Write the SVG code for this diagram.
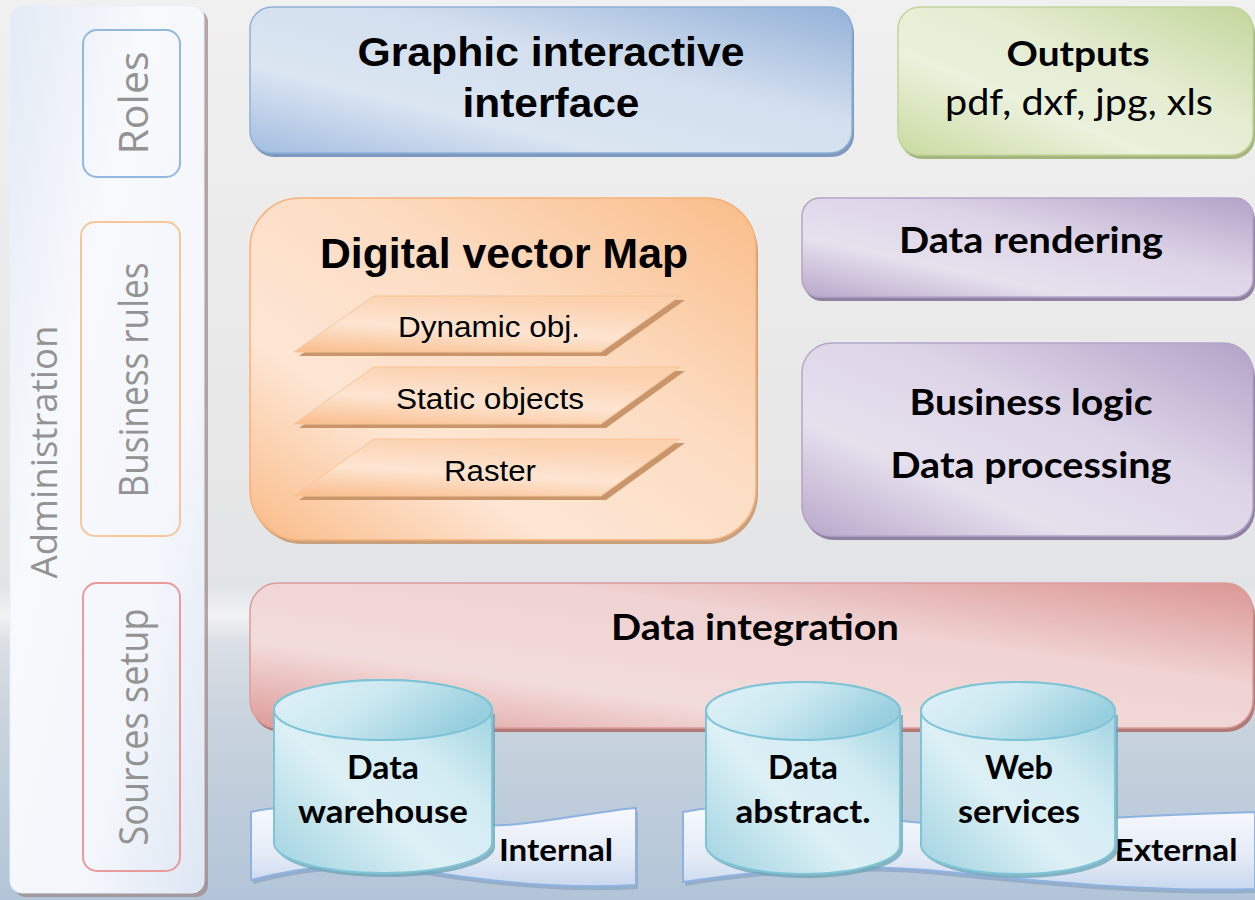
<svg xmlns="http://www.w3.org/2000/svg" width="1255" height="900" viewBox="0 0 1255 900">
<defs>
  <linearGradient id="bg" x1="0" y1="0" x2="0" y2="1">
    <stop offset="0" stop-color="#f0f0f0"/>
    <stop offset="0.55" stop-color="#e6e6e6"/>
    <stop offset="0.68" stop-color="#dfe3e7"/>
    <stop offset="0.8" stop-color="#c9d3dd"/>
    <stop offset="1" stop-color="#b2c5d8"/>
  </linearGradient>
  <linearGradient id="streak" x1="0" y1="0" x2="0" y2="1">
    <stop offset="0" stop-color="#ffffff" stop-opacity="0"/>
    <stop offset="0.5" stop-color="#ffffff" stop-opacity="0.55"/>
    <stop offset="1" stop-color="#ffffff" stop-opacity="0"/>
  </linearGradient>
  <linearGradient id="gAdmin" x1="0" y1="0" x2="1" y2="1">
    <stop offset="0" stop-color="#e3eaf5"/>
    <stop offset="0.35" stop-color="#f7f9fc"/>
    <stop offset="0.7" stop-color="#f3f6fb"/>
    <stop offset="1" stop-color="#dde6f3"/>
  </linearGradient>
  <linearGradient id="gBlue" x1="0" y1="1" x2="1" y2="0">
    <stop offset="0" stop-color="#a3bde0"/>
    <stop offset="0.3" stop-color="#dbe5f2"/>
    <stop offset="0.6" stop-color="#d3dfee"/>
    <stop offset="1" stop-color="#93b1d8"/>
  </linearGradient>
  <linearGradient id="gGreen" x1="0" y1="1" x2="1" y2="0">
    <stop offset="0" stop-color="#c9da9f"/>
    <stop offset="0.35" stop-color="#eaf1dc"/>
    <stop offset="0.6" stop-color="#e4ecd1"/>
    <stop offset="1" stop-color="#c3d69b"/>
  </linearGradient>
  <linearGradient id="gOrange" x1="0" y1="1" x2="1" y2="0">
    <stop offset="0" stop-color="#f9bb87"/>
    <stop offset="0.3" stop-color="#fde6d4"/>
    <stop offset="0.6" stop-color="#fcdcc2"/>
    <stop offset="1" stop-color="#f9bc88"/>
  </linearGradient>
  <linearGradient id="gLayer" x1="0" y1="1" x2="0.4" y2="0">
    <stop offset="0" stop-color="#f9bd8c"/>
    <stop offset="0.5" stop-color="#fde5d2"/>
    <stop offset="1" stop-color="#fbd1ae"/>
  </linearGradient>
  <linearGradient id="gPurple" x1="0" y1="1" x2="1" y2="0">
    <stop offset="0" stop-color="#b7a7ca"/>
    <stop offset="0.3" stop-color="#e6e0ed"/>
    <stop offset="0.6" stop-color="#ddd4e7"/>
    <stop offset="1" stop-color="#b3a2c7"/>
  </linearGradient>
  <linearGradient id="gRed" x1="0" y1="1" x2="1" y2="0">
    <stop offset="0" stop-color="#dd9a98"/>
    <stop offset="0.3" stop-color="#f2dcdb"/>
    <stop offset="0.65" stop-color="#efd2d1"/>
    <stop offset="1" stop-color="#da9694"/>
  </linearGradient>
  <linearGradient id="gCyl" x1="0" y1="1" x2="1" y2="0">
    <stop offset="0" stop-color="#9fd2e0"/>
    <stop offset="0.4" stop-color="#dcf0f5"/>
    <stop offset="0.65" stop-color="#d2ebf2"/>
    <stop offset="1" stop-color="#92cddc"/>
  </linearGradient>
  <linearGradient id="gCylTop" x1="0" y1="0" x2="1" y2="0.4">
    <stop offset="0" stop-color="#e2f2f7"/>
    <stop offset="0.5" stop-color="#cbe8f0"/>
    <stop offset="1" stop-color="#98cfde"/>
  </linearGradient>
  <linearGradient id="gBanner" x1="0" y1="0" x2="0" y2="1">
    <stop offset="0" stop-color="#f7f9fd"/>
    <stop offset="0.6" stop-color="#e4ebf6"/>
    <stop offset="1" stop-color="#c9d8ee"/>
  </linearGradient>
  <style>
    .side { font-family: "Open Sans", "DejaVu Sans", sans-serif; fill: #939393; text-anchor: middle; }
    .cal { font-family: Lato, "Open Sans", sans-serif; font-weight: bold; fill: #000; text-anchor: middle; }
    .calr { font-family: Lato, "Open Sans", sans-serif; fill: #000; text-anchor: middle; }
    .ari { font-family: "Liberation Sans", Arial, sans-serif; font-weight: bold; fill: #000; text-anchor: middle; }
    .arr { font-family: "Liberation Sans", Arial, sans-serif; fill: #000; text-anchor: middle; }
  </style>
</defs>

<rect x="0" y="0" width="1255" height="900" fill="url(#bg)"/>
<rect x="0" y="585" width="1255" height="60" fill="url(#streak)"/>

<g id="administration">
  <rect x="14" y="10" width="194" height="887" rx="12" fill="#9c8585" opacity="0.7"/>
  <rect x="10" y="6" width="194" height="887" rx="12" fill="url(#gAdmin)" stroke="#e8eef7" stroke-width="1"/>
  <text class="side" x="57" y="452" font-size="36" textLength="253" lengthAdjust="spacingAndGlyphs" transform="rotate(-90 57 452)" fill="#a6a6a6">Administration</text>
</g>

<g id="roles">
  <rect x="83" y="30" width="97" height="147" rx="14" fill="none" stroke="#93b8e0" stroke-width="2"/>
  <text class="side" x="148" y="103" font-size="40" textLength="103" lengthAdjust="spacingAndGlyphs" transform="rotate(-90 148 103)">Roles</text>
</g>

<g id="business-rules">
  <rect x="81" y="222" width="99" height="314" rx="14" fill="none" stroke="#f9c59a" stroke-width="2"/>
  <text class="side" x="148" y="380" font-size="40" textLength="235" lengthAdjust="spacingAndGlyphs" transform="rotate(-90 148 380)">Business rules</text>
</g>

<g id="sources-setup">
  <rect x="83" y="583" width="97" height="288" rx="14" fill="none" stroke="#e99a9a" stroke-width="2"/>
  <text class="side" x="148" y="727" font-size="40" textLength="237" lengthAdjust="spacingAndGlyphs" transform="rotate(-90 148 727)">Sources setup</text>
</g>

<g id="graphic-interface">
  <rect x="252" y="11" width="602" height="146" rx="22" fill="#7d99bf"/>
  <rect x="250" y="7" width="602" height="146" rx="22" fill="url(#gBlue)" stroke="#8fb0d8" stroke-width="1.5"/>
  <text class="ari" x="551" y="66" font-size="41" textLength="387" lengthAdjust="spacingAndGlyphs">Graphic interactive</text>
  <text class="ari" x="551" y="117" font-size="41" textLength="177" lengthAdjust="spacingAndGlyphs">interface</text>
</g>

<g id="outputs">
  <rect x="900" y="11" width="355" height="148" rx="22" fill="#a4b57e"/>
  <rect x="898" y="7" width="355" height="148" rx="22" fill="url(#gGreen)" stroke="#c0d59a" stroke-width="1.5"/>
  <text class="cal" x="1078" y="66" font-size="35" textLength="143" lengthAdjust="spacingAndGlyphs">Outputs</text>
  <text class="calr" x="1079" y="115" font-size="37" textLength="268" lengthAdjust="spacingAndGlyphs">pdf, dxf, jpg, xls</text>
</g>

<g id="digital-vector-map">
  <rect x="252" y="202" width="506" height="342" rx="50" fill="#c8a07e"/>
  <rect x="250" y="198" width="506" height="342" rx="50" fill="url(#gOrange)" stroke="#f6b07a" stroke-width="1.5"/>
  <text class="ari" x="504" y="268" font-size="42" textLength="368" lengthAdjust="spacingAndGlyphs">Digital vector Map</text>
  <g id="layer-dynamic">
    <polygon points="379,300 685,300 606,356 299,356" fill="#c9966c"/>
    <polygon points="374,296 680,296 601,352 294,352" fill="url(#gLayer)" stroke="#f9c496" stroke-width="1"/>
    <text class="arr" x="489" y="337" font-size="29" textLength="182" lengthAdjust="spacingAndGlyphs">Dynamic obj.</text>
  </g>
  <g id="layer-static">
    <polygon points="379,371 685,371 606,428 299,428" fill="#c9966c"/>
    <polygon points="374,367 680,367 601,424 294,424" fill="url(#gLayer)" stroke="#f9c496" stroke-width="1"/>
    <text class="arr" x="490" y="409" font-size="29" textLength="188" lengthAdjust="spacingAndGlyphs">Static objects</text>
  </g>
  <g id="layer-raster">
    <polygon points="379,443 685,443 606,500 299,500" fill="#c9966c"/>
    <polygon points="374,439 680,439 601,496 294,496" fill="url(#gLayer)" stroke="#f9c496" stroke-width="1"/>
    <text class="arr" x="490" y="481" font-size="29" textLength="92" lengthAdjust="spacingAndGlyphs">Raster</text>
  </g>
</g>

<g id="data-rendering">
  <rect x="804" y="202" width="451" height="99" rx="18" fill="#8f82a0"/>
  <rect x="802" y="198" width="451" height="99" rx="18" fill="url(#gPurple)" stroke="#b4a4c8" stroke-width="1.5"/>
  <text class="cal" x="1031" y="253" font-size="36" textLength="264" lengthAdjust="spacingAndGlyphs">Data rendering</text>
</g>

<g id="business-logic">
  <rect x="804" y="347" width="451" height="193" rx="30" fill="#8f82a0"/>
  <rect x="802" y="343" width="451" height="193" rx="30" fill="url(#gPurple)" stroke="#b4a4c8" stroke-width="1.5"/>
  <text class="cal" x="1031" y="415" font-size="36" textLength="243" lengthAdjust="spacingAndGlyphs">Business logic</text>
  <text class="cal" x="1031" y="478" font-size="36" textLength="281" lengthAdjust="spacingAndGlyphs">Data processing</text>
</g>

<g id="data-integration">
  <rect x="252" y="587" width="1003" height="145" rx="28" fill="#b07876"/>
  <rect x="250" y="583" width="1003" height="145" rx="28" fill="url(#gRed)" stroke="#dc9c9a" stroke-width="1.5"/>
  <text class="cal" x="755" y="640" font-size="36" textLength="288" lengthAdjust="spacingAndGlyphs">Data integration</text>
</g>

<g id="internal">
  <path d="M253,816 C340,796 430,838 520,828 C575,822 610,814 638,812 L638,889 C560,894 480,884 420,874 C350,864 300,872 253,884 Z" fill="#8fa6c4" opacity="0.8"/>
  <path d="M251,812 C338,792 428,834 518,824 C573,818 608,810 636,808 L636,885 C558,890 478,880 418,870 C348,860 298,868 251,880 Z" fill="url(#gBanner)" stroke="#8eb2e0" stroke-width="2"/>
  <text class="cal" x="556" y="861" font-size="30" textLength="114" lengthAdjust="spacingAndGlyphs">Internal</text>
</g>

<g id="external">
  <path d="M685,816 C790,796 900,838 1020,828 C1120,820 1200,818 1255,816 L1255,893 C1150,896 1050,886 950,876 C860,866 760,874 685,886 Z" fill="#8fa6c4" opacity="0.8"/>
  <path d="M683,812 C788,792 898,834 1018,824 C1118,816 1198,814 1255,812 L1255,889 C1148,892 1048,882 948,872 C858,862 758,870 683,882 Z" fill="url(#gBanner)" stroke="#8eb2e0" stroke-width="2"/>
  <text class="cal" x="1176" y="861" font-size="30" textLength="123" lengthAdjust="spacingAndGlyphs">External</text>
</g>

<g id="data-warehouse">
  <path d="M277,714 L277,847 A109,30 0 0 0 495,847 L495,714 Z" fill="#6fa6b6" opacity="0.8"/>
  <path d="M274,710 L274,843 A109,30 0 0 0 492,843 L492,710 A109,30 0 0 0 274,710 Z" fill="url(#gCyl)" stroke="#7fc4d6" stroke-width="2"/>
  <ellipse cx="383" cy="710" rx="109" ry="30" fill="url(#gCylTop)" stroke="#7fc4d6" stroke-width="2"/>
  <text class="cal" x="383" y="779" font-size="32" textLength="72" lengthAdjust="spacingAndGlyphs">Data</text>
  <text class="cal" x="383" y="823" font-size="32" textLength="170" lengthAdjust="spacingAndGlyphs">warehouse</text>
</g>

<g id="data-abstract">
  <path d="M709,715 L709,849 A97,29 0 0 0 903,849 L903,715 Z" fill="#6fa6b6" opacity="0.8"/>
  <path d="M706,711 L706,845 A97,29 0 0 0 900,845 L900,711 A97,29 0 0 0 706,711 Z" fill="url(#gCyl)" stroke="#7fc4d6" stroke-width="2"/>
  <ellipse cx="803" cy="711" rx="97" ry="29" fill="url(#gCylTop)" stroke="#7fc4d6" stroke-width="2"/>
  <text class="cal" x="803" y="779" font-size="32" textLength="70" lengthAdjust="spacingAndGlyphs">Data</text>
  <text class="cal" x="803" y="823" font-size="32" textLength="135" lengthAdjust="spacingAndGlyphs">abstract.</text>
</g>

<g id="web-services">
  <path d="M924,715 L924,849 A97,29 0 0 0 1118,849 L1118,715 Z" fill="#6fa6b6" opacity="0.8"/>
  <path d="M921,711 L921,845 A97,29 0 0 0 1115,845 L1115,711 A97,29 0 0 0 921,711 Z" fill="url(#gCyl)" stroke="#7fc4d6" stroke-width="2"/>
  <ellipse cx="1018" cy="711" rx="97" ry="29" fill="url(#gCylTop)" stroke="#7fc4d6" stroke-width="2"/>
  <text class="cal" x="1019" y="779" font-size="32" textLength="68" lengthAdjust="spacingAndGlyphs">Web</text>
  <text class="cal" x="1019" y="823" font-size="32" textLength="122" lengthAdjust="spacingAndGlyphs">services</text>
</g>

<g id="connectors"></g>
</svg>
